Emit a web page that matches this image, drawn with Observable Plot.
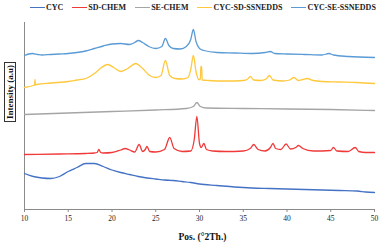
<!DOCTYPE html>
<html>
<head>
<meta charset="utf-8">
<script src="https://cdn.jsdelivr.net/npm/d3@7"></script>
<script src="https://cdn.jsdelivr.net/npm/@observablehq/plot@0.6"></script>
<style>
  html, body { margin: 0; padding: 0; background: #fff; }
  #wrap { position: relative; width: 390px; height: 248px; overflow: hidden; font-family: "Liberation Serif", serif; }
  #legend { position: absolute; left: 30px; top: 1px; height: 13px; display: flex; align-items: center; gap: 9px; font-weight: bold; font-size: 8px; color: #222; white-space: nowrap; }
  .item { display: flex; align-items: center; gap: 1px; }
  .swatch { display: inline-block; width: 15px; height: 0; border-top: 1.5px solid; }
  #chart { position: absolute; left: 0; top: 14px; }
  #ylab { position: absolute; left: 10px; top: 92px; transform: translate(-50%, -50%) rotate(-90deg); border: 1px solid #333; padding: 0 2px; font-weight: bold; font-size: 9px; line-height: 10px; white-space: nowrap; color: #111; }
</style>
</head>
<body>
<div id="wrap">
  <div id="legend"></div>
  <div id="chart"></div>
  <div id="ylab">Intensity (a.u)</div>
</div>
<script>
// Series names and colours
const seriesNames = ["CYC", "SD-CHEM", "SE-CHEM", "CYC-SD-SSNEDDS", "CYC-SE-SSNEDDS"];
const seriesColors = ["#4472C4", "#F03A3A", "#A5A5A5", "#FFC83D", "#5B9BD5"];
const xTicks = [10, 15, 20, 25, 30, 35, 40, 45, 50];

// CYC (bottom trace)
const cycX = [10, 11, 12, 13, 14, 15, 16, 17, 18, 19, 20, 21, 22, 23, 24, 25, 26, 27, 28, 29, 30, 32, 34, 36, 38, 40, 42, 44, 46, 48, 49, 50];
const cycY = [36, 33, 31.5, 31, 33, 38, 42, 46, 46, 43, 39.5, 37, 35, 33, 31.5, 30.5, 29.5, 29, 28, 27, 25.5, 24, 22.5, 21.5, 21, 20.5, 20, 19.5, 19, 18.5, 17.5, 17];

// SD-CHEM
const sdX = [10, 14, 17, 18, 18.3, 18.5, 18.7, 19, 20, 21, 21.5, 22, 22.6, 23.1, 23.5, 23.8, 24, 24.3, 25, 26, 26.6, 27.1, 28, 29, 29.4, 29.7, 30.0, 30.2, 30.5, 30.8, 31.5, 33, 35, 35.8, 36.2, 36.7, 37.5, 38.1, 38.4, 38.7, 39.3, 39.9, 40.4, 41, 41.3, 41.8, 43, 45, 45.3, 45.7, 47, 47.8, 48.2, 49, 50];
const sdY = [55, 55.5, 56, 56.5, 57, 60, 57, 56.5, 57, 59.5, 61, 59.5, 57.5, 65, 58, 60, 63, 58, 57.5, 60, 72, 61, 58, 58.5, 70, 93, 66, 62, 66, 60, 58.5, 58, 58.5, 61, 65, 60, 58.5, 62, 66, 61, 60, 65.5, 60.5, 62, 64, 61, 58.5, 59, 62, 58.5, 58, 62, 58, 57, 57];

// SE-CHEM
const seX = [10, 15, 20, 25, 28.5, 29.3, 29.7, 30.1, 30.8, 35, 40, 45, 50];
const seY = [95, 96.5, 98, 99.5, 101, 103, 107, 103, 101.5, 101, 100.5, 100, 99];

// CYC-SD-SSNEDDS
const cysdX = [10, 11.0, 11.15, 11.2, 11.25, 11.4, 13, 15, 16, 17, 18, 18.8, 19.5, 20.2, 21, 21.8, 22.7, 23.5, 24.3, 25, 25.6, 26.1, 26.6, 27.2, 28, 28.7, 29.0, 29.3, 29.6, 29.9, 30.1, 30.15, 30.25, 30.3, 31, 33, 35, 35.5, 35.8, 36.2, 37, 37.6, 38, 38.4, 39.5, 40.3, 40.8, 41.3, 41.8, 42.3, 43, 44, 46, 48, 50];
const cysdY = [122, 124, 124.5, 130, 124.5, 125, 126.5, 128, 129.5, 131, 136, 142, 145, 142, 138, 141, 146, 141, 134, 132, 134, 149, 134, 131, 130.5, 132, 140, 154, 138, 130, 130, 143, 143, 129.5, 129, 128.5, 129, 130.5, 133, 129.5, 129, 130.5, 134, 129.5, 128.5, 129.5, 132, 129, 130, 131, 129, 128, 127.5, 127, 126];

// CYC-SE-SSNEDDS (top trace)
const cyseX = [10, 10.5, 10.9, 11.5, 12, 13, 14, 15, 16, 17, 18, 19, 20, 21, 22, 22.6, 23, 23.5, 24.2, 25, 25.7, 26.1, 26.5, 27, 27.8, 28.5, 29.0, 29.3, 29.6, 30, 30.5, 32, 34, 36, 37.5, 38.1, 38.6, 40, 42, 44, 44.8, 45.3, 47, 50];
const cyseY = [154, 155.5, 156, 155, 154.5, 155, 155.5, 156, 157, 158.5, 161, 163.5, 165.5, 166, 165, 167, 169, 167, 163, 161, 163, 171, 164, 161, 160.5, 163, 170, 180, 168, 161, 159, 157, 156.5, 156, 157, 158, 156, 155.5, 155, 154.5, 156, 154.5, 153, 152];

const xs = [cycX, sdX, seX, cysdX, cyseX];
const ys = [cycY, sdY, seY, cysdY, cyseY];

// Legend
const legend = document.getElementById("legend");
seriesNames.forEach((n, i) => {
  const it = document.createElement("span");
  it.className = "item";
  const sw = document.createElement("span");
  sw.className = "swatch";
  sw.style.borderTopColor = seriesColors[i];
  const t = document.createElement("span");
  t.textContent = n;
  it.appendChild(sw); it.appendChild(t);
  legend.appendChild(it);
});

const lineMarks = seriesNames.map((n, i) =>
  Plot.line(xs[i].map((x, j) => ({x, y: ys[i][j]})), {
    x: "x", y: "y", stroke: seriesColors[i], strokeWidth: 1.3, curve: "monotone-x"
  })
);

const chart = Plot.plot({
  width: 390,
  height: 234,
  marginTop: 8,
  marginLeft: 24,
  marginRight: 16,
  marginBottom: 39,
  style: { fontFamily: "Liberation Serif", fontSize: "7.5px", color: "#222", background: "#fff" },
  x: { domain: [10, 50], label: null },
  y: { domain: [0, 187], axis: null },
  marks: [
    Plot.ruleX([10], { stroke: "#8a8a8a", strokeWidth: 1 }),
    Plot.ruleY([0], { stroke: "#8a8a8a", strokeWidth: 1 }),
    Plot.axisX({ ticks: xTicks, tickSize: 3, tickPadding: 3, label: null, stroke: "#8a8a8a" }),
    ...lineMarks,
    Plot.text(["Pos. (°2Th.)"], { frameAnchor: "bottom", dx: 3, dy: 30, fontWeight: "bold", fontSize: 9.5, fill: "#111" })
  ]
});
document.getElementById("chart").appendChild(chart);
</script>
</body>
</html>
